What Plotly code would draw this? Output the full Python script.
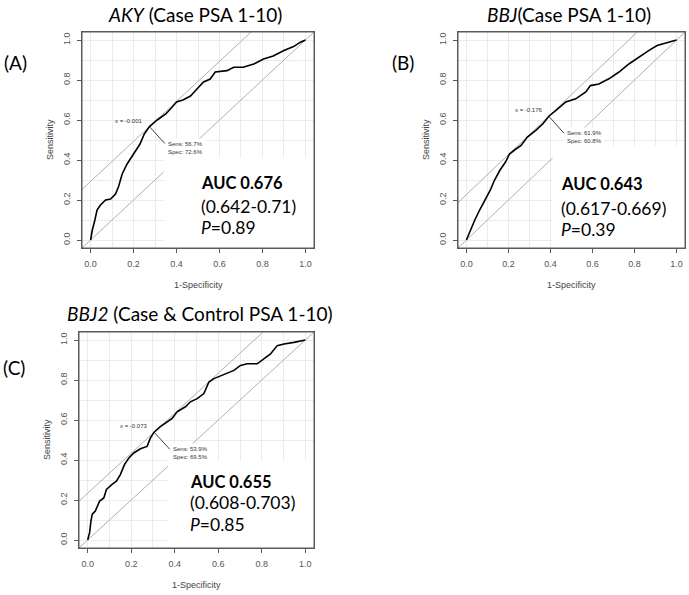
import plotly.graph_objects as go

# ROC curves (x = 1-specificity, y = sensitivity)
aky_fpr = [0, 0.008, 0.02, 0.03, 0.046, 0.07, 0.093, 0.116, 0.13, 0.147, 0.17, 0.2, 0.23, 0.25,
           0.274, 0.31, 0.35, 0.38, 0.40, 0.43, 0.465, 0.495, 0.526, 0.557, 0.58, 0.635, 0.666,
           0.71, 0.76, 0.805, 0.85, 0.9, 0.945, 0.975, 1.0]
aky_tpr = [0, 0.05, 0.10, 0.15, 0.175, 0.20, 0.205, 0.23, 0.266, 0.33, 0.38, 0.43, 0.48, 0.53,
           0.567, 0.60, 0.63, 0.665, 0.69, 0.70, 0.72, 0.755, 0.79, 0.805, 0.84, 0.847, 0.864,
           0.864, 0.88, 0.905, 0.92, 0.947, 0.967, 0.988, 1.0]

bbj_fpr = [0, 0.019, 0.04, 0.063, 0.087, 0.114, 0.134, 0.16, 0.186, 0.205, 0.229, 0.26, 0.29,
           0.33, 0.363, 0.392, 0.426, 0.473, 0.52, 0.568, 0.59, 0.63, 0.678, 0.726, 0.773, 0.82,
           0.867, 0.907, 0.946, 0.97, 1.0]
bbj_tpr = [0, 0.05, 0.10, 0.15, 0.20, 0.25, 0.30, 0.35, 0.39, 0.43, 0.45, 0.473, 0.515, 0.548,
           0.58, 0.619, 0.648, 0.69, 0.706, 0.74, 0.772, 0.78, 0.806, 0.84, 0.88, 0.914, 0.947,
           0.972, 0.983, 0.993, 1.0]

bbj2_fpr = [0, 0.009, 0.015, 0.021, 0.035, 0.046, 0.055, 0.074, 0.086, 0.112, 0.132, 0.15,
            0.169, 0.189, 0.212, 0.242, 0.273, 0.288, 0.305, 0.334, 0.365, 0.388, 0.411, 0.449,
            0.472, 0.503, 0.534, 0.557, 0.58, 0.618, 0.672, 0.702, 0.733, 0.779, 0.81, 0.84,
            0.871, 0.902, 0.948, 0.979, 1.0]
bbj2_tpr = [0, 0.038, 0.096, 0.129, 0.145, 0.17, 0.195, 0.21, 0.253, 0.278, 0.294, 0.327,
            0.377, 0.41, 0.435, 0.456, 0.468, 0.509, 0.539, 0.567, 0.592, 0.608, 0.641, 0.666,
            0.691, 0.707, 0.732, 0.79, 0.807, 0.823, 0.848, 0.873, 0.881, 0.881, 0.906, 0.93,
            0.972, 0.98, 0.988, 0.997, 1.0]

# optimal cut-off: threshold label, sensitivity, specificity
cut_labels = ["x = -0.001", "x = -0.176", "x = -0.073"]
cut_sens = [0.567, 0.619, 0.539]
cut_spec = [0.726, 0.608, 0.695]

titles = ["<i>AKY</i> (Case PSA 1-10)", "<i>BBJ</i>(Case PSA 1-10)",
          "<i>BBJ2</i> (Case &amp; Control PSA 1-10)"]
panel_tags = ["(A)", "(B)", "(C)"]
auc_vals = ["0.676", "0.643", "0.655"]
auc_ci = ["(0.642-0.71)", "(0.617-0.669)", "(0.608-0.703)"]
p_vals = ["0.89", "0.39", "0.85"]
tick_vals = [0, 0.2, 0.4, 0.6, 0.8, 1.0]
tick_text = ["0.0", "0.2", "0.4", "0.6", "0.8", "1.0"]

curves = [(aky_fpr, aky_tpr), (bbj_fpr, bbj_tpr), (bbj2_fpr, bbj2_tpr)]

W, H = 689, 595
# frame boxes in pixels: left, right, top, bottom
frames = [(82, 314, 32, 248), (458, 685, 32, 248), (79, 314, 332, 548)]
title_pos = [(195, 14), (569, 14), (200, 313)]
tag_pos = [(15, 63), (403, 63), (14, 367)]
# white box covering the lower-right corner (data coords: left x, top y)
cover = [(0.34, 0.41), (0.41, 0.47), (0.37, 0.40)]
# AUC block: left x (data) and the three line centres (data y)
auc_x = [0.505, 0.44, 0.46]
auc_y = [(0.285, 0.170, 0.062), (0.282, 0.160, 0.055), (0.29, 0.186, 0.08)]

fig = go.Figure()
GRID = "#ebebeb"
LINE = "#b0b0b0"
FRAME = "#5a5a5a"
RNG = [-0.04, 1.04]

for i, (fpr, tpr) in enumerate(curves):
    n = "" if i == 0 else str(i + 1)
    xa, ya = "x" + n, "y" + n
    l, r, t, b = frames[i]
    ax_common = dict(
        range=RNG, showline=True, mirror=True, linecolor=FRAME, linewidth=1,
        ticks="outside", ticklen=4, tickcolor=FRAME, tickvals=tick_vals, ticktext=tick_text,
        tickfont=dict(family="Liberation Sans", size=9, color="#555"), ticklabelstandoff=3,
        showgrid=True, gridcolor=GRID, gridwidth=1, zeroline=False,
        minor=dict(dtick=0.1, tick0=0, showgrid=True, gridcolor=GRID, ticks=""),
        fixedrange=True,
    )
    fig.update_layout({
        "xaxis" + n: dict(domain=[l / W, r / W], anchor=ya, **ax_common),
        "yaxis" + n: dict(domain=[1 - b / H, 1 - t / H], anchor=xa, tickangle=-90, **ax_common),
    })

    spec = cut_spec[i]
    sens = cut_sens[i]
    px = 1 - spec
    j = sens + spec - 1
    # chance diagonal and Youden line through the optimal point
    fig.add_trace(go.Scatter(x=RNG, y=RNG, mode="lines", line=dict(color=LINE, width=1),
                             xaxis=xa, yaxis=ya, hoverinfo="skip", showlegend=False))
    fig.add_trace(go.Scatter(x=[RNG[0], RNG[1] - j], y=[RNG[0] + j, RNG[1]], mode="lines",
                             line=dict(color=LINE, width=1), xaxis=xa, yaxis=ya,
                             hoverinfo="skip", showlegend=False))
    # leader line from the optimal point to the label
    fig.add_trace(go.Scatter(x=[px, px + 0.072], y=[sens, sens - 0.085], mode="lines",
                             line=dict(color="#444", width=1), xaxis=xa, yaxis=ya,
                             hoverinfo="skip", showlegend=False))
    fig.add_trace(go.Scatter(x=fpr, y=tpr, mode="lines", line=dict(color="black", width=1.6),
                             xaxis=xa, yaxis=ya, showlegend=False))

    cx, cy = cover[i]
    fig.add_shape(type="rect", xref=xa, yref=ya, x0=cx, x1=1.04, y0=-0.04, y1=cy,
                  fillcolor="white", line=dict(width=0), layer="above")
    # plot frame drawn on top of everything
    fig.add_shape(type="rect", xref=xa + " domain", yref=ya + " domain", x0=0, x1=1, y0=0, y1=1,
                  line=dict(color=FRAME, width=1), layer="above")

    small = dict(family="Liberation Sans", size=6, color="#333")
    fig.add_annotation(x=px - 0.02, y=sens + 0.03, xref=xa, yref=ya, text=cut_labels[i],
                       showarrow=False, xanchor="right", yanchor="middle", font=small)
    fig.add_annotation(x=px + 0.072, y=sens - 0.105, xref=xa, yref=ya,
                       text="Sens: %.1f%%<br>Spec: %.1f%%" % (sens * 100, spec * 100),
                       showarrow=False, xanchor="left", yanchor="middle", align="left",
                       font=small, bgcolor="white", borderpad=2)

    big = dict(family="Lato", size=17.5, color="black")
    lines = ["<b>AUC %s</b>" % auc_vals[i], auc_ci[i], "<i>P</i>=%s" % p_vals[i]]
    for k, txt in enumerate(lines):
        f = dict(big, size=16.5) if k == 0 else big
        fig.add_annotation(x=auc_x[i], y=auc_y[i][k], xref=xa, yref=ya, text=txt,
                           showarrow=False, xanchor="left", yanchor="middle", font=f)

    # axis titles
    fig.add_annotation(x=(l + r) / 2 / W, y=1 - (b + 37) / H, xref="paper", yref="paper",
                       text="1-Specificity", showarrow=False, xanchor="center",
                       yanchor="middle", font=dict(family="Liberation Sans", size=9, color="#444"))
    fig.add_annotation(x=(l - 32) / W, y=1 - (t + b) / 2 / H, xref="paper", yref="paper",
                       text="Sensitivity", showarrow=False, textangle=-90, xanchor="center",
                       yanchor="middle", font=dict(family="Liberation Sans", size=9, color="#444"))

    tx, ty = title_pos[i]
    fig.add_annotation(x=tx / W, y=1 - ty / H, xref="paper", yref="paper", text=titles[i],
                       showarrow=False, xanchor="center", yanchor="middle",
                       font=dict(family="Lato", size=19, color="black"))
    gx, gy = tag_pos[i]
    fig.add_annotation(x=gx / W, y=1 - gy / H, xref="paper", yref="paper", text=panel_tags[i],
                       showarrow=False, xanchor="center", yanchor="middle",
                       font=dict(family="Lato", size=19, color="black"))

fig.update_layout(width=W, height=H, margin=dict(l=0, r=0, t=0, b=0),
                  paper_bgcolor="white", plot_bgcolor="white", showlegend=False)

# the page body has a default 8px margin; drop it so the figure fills the window
fig.write_html("out.html", config={"displayModeBar": False},
               post_script="document.body.style.margin='0';")
